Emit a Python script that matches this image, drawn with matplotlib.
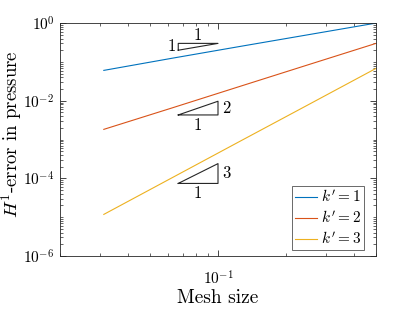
import matplotlib
matplotlib.use("Agg")
import matplotlib.pyplot as plt
import matplotlib.ticker as mticker
import numpy as np

plt.rcParams['font.family'] = ['cmr10', 'DejaVu Serif']
plt.rcParams['mathtext.fontset'] = 'cm'
plt.rcParams['axes.formatter.use_mathtext'] = True

h = [0.5, 0.25, 0.125, 0.0625, 0.03125]
err_k1 = [1.0, 0.5, 0.25, 0.124, 0.0605]
err_k2 = [0.30, 0.084, 0.0234, 0.0065, 0.00183]
err_k3 = [0.068, 0.0078, 9.0e-4, 1.03e-4, 1.18e-5]
labels = [r"$k'=1$", r"$k'=2$", r"$k'=3$"]
colors = ['#0072BD', '#D95319', '#EDB120']
yticks = [1e-6, 1e-4, 1e-2, 1e0]
xticks = [0.1]

# slope triangles
tri_x = [0.0667, 0.1]
tri1_y = [0.2, 0.3]
tri2_y = [0.0043, 0.0097]
tri3_y = [7.4e-5, 2.4e-4]

fig = plt.figure(figsize=(4.15, 3.12), dpi=100)
ax = fig.add_axes([0.1446, 0.1795, 0.7614, 0.7465])

for e, lab, c in zip([err_k1, err_k2, err_k3], labels, colors):
    ax.loglog(h, e, color=c, lw=0.8, label=lab)

ax.set_xlim(0.02, 0.5)
ax.set_ylim(1e-6, 1)

kc = '0.15'
fs_tri = 12
ax.plot([tri_x[0], tri_x[0], tri_x[1], tri_x[0]],
        [tri1_y[0], tri1_y[1], tri1_y[1], tri1_y[0]], color=kc, lw=0.8)
ax.text(np.sqrt(tri_x[0]*tri_x[1]), tri1_y[1]*1.05, '1', ha='center', va='bottom', fontsize=fs_tri)
ax.text(tri_x[0]*0.98, np.sqrt(tri1_y[0]*tri1_y[1]), '1', ha='right', va='center', fontsize=fs_tri)
for ty, r in [(tri2_y, '2'), (tri3_y, '3')]:
    ax.plot([tri_x[0], tri_x[1], tri_x[1], tri_x[0]],
            [ty[0], ty[0], ty[1], ty[0]], color=kc, lw=0.8)
    ax.text(tri_x[1]*1.04, np.sqrt(ty[0]*ty[1]), r, ha='left', va='center', fontsize=fs_tri)
    ax.text(np.sqrt(tri_x[0]*tri_x[1]), ty[0]*0.85, '1', ha='center', va='top', fontsize=fs_tri)

ax.yaxis.set_major_locator(mticker.FixedLocator(yticks))
ax.yaxis.set_major_formatter(mticker.LogFormatterSciNotation())
ax.yaxis.set_minor_locator(mticker.LogLocator(base=10.0, subs=np.arange(1, 10), numticks=20))
ax.yaxis.set_minor_formatter(mticker.NullFormatter())
ax.xaxis.set_major_locator(mticker.FixedLocator(xticks))
ax.xaxis.set_major_formatter(mticker.LogFormatterSciNotation())
ax.xaxis.set_minor_locator(mticker.LogLocator(base=10.0, subs=np.arange(2, 10), numticks=20))
ax.xaxis.set_minor_formatter(mticker.NullFormatter())

ax.tick_params(which='both', direction='in', top=True, right=True, colors=kc, labelcolor='k',
               labelsize=11)
ax.tick_params(which='major', length=4, width=0.6, pad=4)
ax.tick_params(axis='x', which='major', pad=10)
ax.tick_params(which='minor', length=2, width=0.5)
for s in ax.spines.values():
    s.set_color(kc)
    s.set_linewidth(0.6)

ax.set_xlabel('Mesh size', fontsize=14, labelpad=1)
ax.set_ylabel(r'$H^1$-error in pressure', fontsize=13.5)
ax.yaxis.set_label_coords(-0.155, 0.524)
ax.yaxis.label.set_verticalalignment('center')

leg = ax.legend(loc='lower right', bbox_to_anchor=(0.962, 0.0258), fontsize=11,
                frameon=True, fancybox=False, edgecolor=kc, handlelength=1.45,
                handletextpad=0.25, borderpad=0.2, labelspacing=0.3, borderaxespad=0)
leg.get_frame().set_linewidth(0.6)

fig.savefig('out.png', dpi=100)
